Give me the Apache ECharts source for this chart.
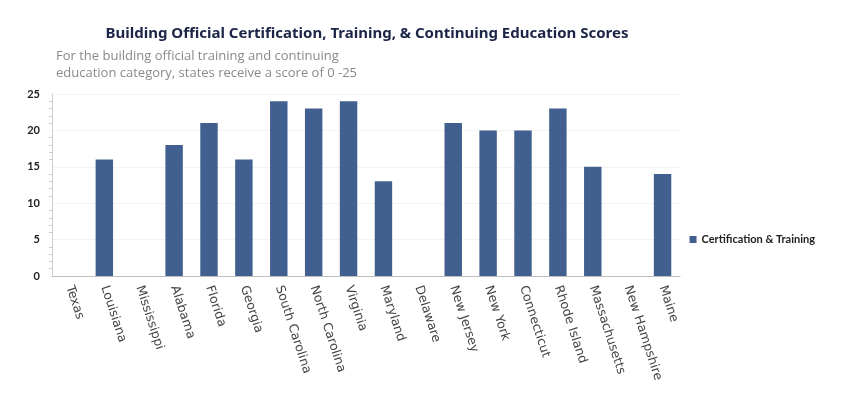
<!DOCTYPE html>
<html><head><meta charset="utf-8">
<script src="https://cdn.jsdelivr.net/npm/echarts@6/dist/echarts.min.js"></script>
<style>html,body{margin:0;padding:0;background:#fff}#c{width:850px;height:397px}</style>
</head><body><div id="c"></div>
<script>
const categories = ["Texas","Louisiana","Mississippi","Alabama","Florida","Georgia","South Carolina","North Carolina","Virginia","Maryland","Delaware","New Jersey","New York","Connecticut","Rhode Island","Massachusetts","New Hampshire","Maine"];
const scores = [0,16,0,18,21,16,24,23,24,13,0,21,20,20,23,15,0,14];
const seriesName = "Certification & Training";
const titleText = "Building Official Certification, Training, & Continuing Education Scores";
const subtitleText = "For the building official training and continuing\neducation category, states receive a score of 0 -25";

const chart = echarts.init(document.getElementById('c'));
chart.setOption({
  animation:false,
  title:[{text:titleText,left:362,top:21,textAlign:'center',textStyle:{fontFamily:'Noto Sans',fontWeight:'bold',fontSize:15,color:'#1c2447'}},
         {text:subtitleText,left:51,top:43,textStyle:{fontFamily:'Open Sans',fontWeight:'normal',fontSize:13,color:'#8a8a8a',lineHeight:17}}],
  legend:{right:30,top:229,orient:'vertical',itemWidth:7,itemHeight:7,icon:'rect',
    textStyle:{fontFamily:'Lato',fontWeight:'bold',fontSize:11,color:'#222'}},
  grid:{left:52,right:170,top:94,bottom:121},
  xAxis:{type:'category',data:categories,
    axisLine:{lineStyle:{color:'#bdbdbd'}},axisTick:{show:false},
    axisLabel:{rotate:-72,interval:0,fontFamily:'DejaVu Sans',fontSize:12.5,color:'#444',margin:10}},
  yAxis:{type:'value',min:0,max:25,interval:5,
    axisLine:{show:true,lineStyle:{color:'#d0d0d0'}},
    axisTick:{show:false},
    minorTick:{show:true,splitNumber:5,length:3,lineStyle:{color:'#ccc'}},
    splitLine:{lineStyle:{color:'#f3f3f3'}},
    axisLabel:{fontFamily:'Lato',fontWeight:'bold',fontSize:11,color:'#222',margin:12}},
  series:[{name:seriesName,type:'bar',data:scores,barWidth:'50%',itemStyle:{color:'#41608f'}}]
});
</script></body></html>
